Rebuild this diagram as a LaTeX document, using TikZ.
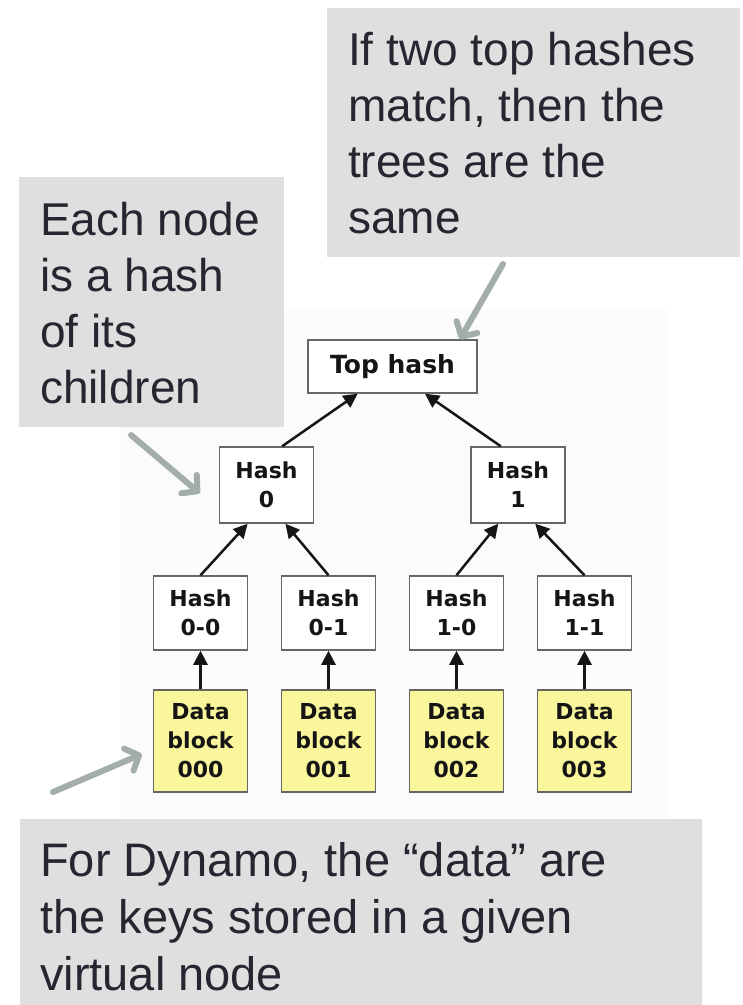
\documentclass[tikz,border=0pt]{standalone}
\usepackage{fontspec}
\setmainfont{Liberation Sans}
\newfontfamily\boxfont{DejaVu Sans}
\usetikzlibrary{arrows.meta}

\definecolor{notegray}{HTML}{DFDFDF}
\definecolor{noteink}{HTML}{262630}
\definecolor{pointer}{HTML}{A3AEA9}
\definecolor{blockyellow}{HTML}{F9F69C}
\definecolor{boxedge}{HTML}{666666}
\definecolor{treebg}{HTML}{FAFBFA}
\definecolor{treeink}{HTML}{151515}

\begin{document}
\begin{tikzpicture}[x=1pt,y=-1pt,
  notebox/.style={fill=notegray},
  noteline/.style={font=\fontsize{46}{56}\selectfont, text=noteink,
    anchor=base west, inner sep=0pt},
  wideline/.style={noteline, font=\fontsize{47}{56}\selectfont},
  hashbox/.style={draw=boxedge, line width=1.5pt, fill=white,
    minimum width=94pt, minimum height=75pt, inner sep=0pt, align=center,
    text=treeink, font=\boxfont\bfseries\fontsize{22}{29}\selectfont},
  topbox/.style={hashbox, minimum width=169pt, minimum height=53pt,
    font=\boxfont\bfseries\fontsize{25}{30}\selectfont},
  datablock/.style={hashbox, fill=blockyellow, minimum height=102pt},
  treearrow/.style={draw=treeink, line width=2.5pt,
    -{Triangle[length=14pt,width=14pt]}},
  pointerarrow/.style={draw=pointer, line width=6pt, line cap=round,
    -{Straight Barb[length=11pt,width=24pt,round]}}
]
\useasboundingbox (0,0) rectangle (743,1005);
\fill[white] (0,0) rectangle (743,1005);

% light panel behind the tree
\fill[treebg] (120,310) rectangle (667,818);

% the Merkle tree
\node[topbox] (top) at (392.5,366.5) {Top hash};
\node[hashbox, minimum height=76pt] (h0) at (266.5,485) {Hash\\0};
\node[hashbox, minimum height=76pt] (h1) at (518,485) {Hash\\1};

\node[hashbox, minimum height=74pt] (h00) at (200.5,613) {Hash\\0-0};
\node[hashbox, minimum height=74pt] (h01) at (328.5,613) {Hash\\0-1};
\node[hashbox, minimum height=74pt] (h10) at (456.5,613) {Hash\\1-0};
\node[hashbox, minimum height=74pt] (h11) at (584.5,613) {Hash\\1-1};

\node[datablock] (d0) at (200.5,741) {Data\\block\\000};
\node[datablock] (d1) at (328.5,741) {Data\\block\\001};
\node[datablock] (d2) at (456.5,741) {Data\\block\\002};
\node[datablock] (d3) at (584.5,741) {Data\\block\\003};

\draw[treearrow] (h0.68)  -- (top.218);
\draw[treearrow] (h1.114) -- (top.320);
\draw[treearrow] (h00.north) -- (h0.244);
\draw[treearrow] (h01.north) -- (h0.296);
\draw[treearrow] (h10.north) -- (h1.243);
\draw[treearrow] (h11.north) -- (h1.294);
\draw[treearrow] (d0.north) -- (h00.south);
\draw[treearrow] (d1.north) -- (h01.south);
\draw[treearrow] (d2.north) -- (h10.south);
\draw[treearrow] (d3.north) -- (h11.south);

% callout: top hashes
\fill[notebox] (327,8) rectangle (740,257);
\node[noteline] (ta) at (348,65)  {If two top hashes};
\node[noteline] (tb) at (348,121) {match, then the};
\node[noteline] (tc) at (348,177) {trees are the};
\node[noteline] (td) at (348,233) {same};

% callout: inner nodes
\fill[notebox] (19,177) rectangle (284,427);
\node[noteline] (la) at (40,235) {Each node};
\node[noteline] (lb) at (40,291) {is a hash};
\node[noteline] (lc) at (40,347) {of its};
\node[noteline] (ld) at (40,403) {children};

% callout: data blocks
\fill[notebox] (20,819) rectangle (702,1005);
\node[wideline] (ba) at (40,876) {For Dynamo, the “data” are};
\node[wideline] (bb) at (40,933) {the keys stored in a given};
\node[wideline] (bc) at (40,990) {virtual node};

% pointers from the callouts
\coordinate (p1) at (503,264);
\coordinate (p2) at (131,435);
\coordinate (p3) at (53,792);
\draw[pointerarrow] (p1) -- (top.22);
\draw[pointerarrow, shorten >=25pt] (p2) -- (h0.207);
\draw[pointerarrow, shorten >=12pt] (p3) -- (d0.190);
\end{tikzpicture}
\end{document}
